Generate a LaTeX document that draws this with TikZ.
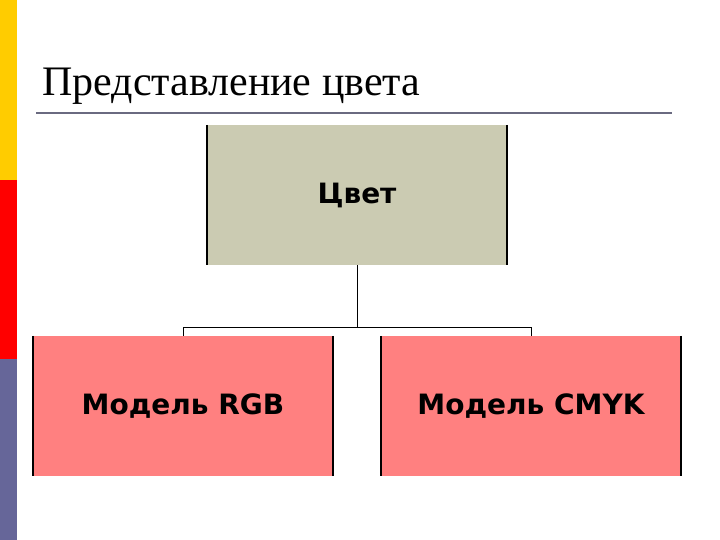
\documentclass[tikz,border=0pt]{standalone}
\usepackage{fontspec}
\setmainfont{Liberation Serif}
\newfontfamily\titrefont{Liberation Serif}
\newfontfamily\blocfont{DejaVu Sans}
\usetikzlibrary{positioning}
\definecolor{jaune}{HTML}{FFCC00}
\definecolor{rouge}{HTML}{FF0000}
\definecolor{mauve}{HTML}{666699}
\definecolor{trait}{HTML}{6A6A80}
\definecolor{beige}{HTML}{CBCBB2}
\definecolor{saumon}{HTML}{FF8080}
\tikzset{
  bloc/.style={rectangle, fill=beige, text=black, font=\blocfont\bfseries\fontsize{28}{32}\selectfont,
    minimum width=300pt, minimum height=140pt, inner sep=0pt, align=center},
  blocmodele/.style={bloc, fill=saumon},
  bord/.style={line width=2pt, color=black},
  lien/.style={line width=1pt, color=black}
}
\begin{document}
\begin{tikzpicture}[x=1pt, y=-1pt]
    \useasboundingbox (0,0) rectangle (720,540);
    \fill[white] (0,0) rectangle (720,540);

    % Bande de gauche
    \fill[jaune] (0,0) rectangle (17,180);
    \fill[rouge] (0,180) rectangle (17,359);
    \fill[mauve] (0,359) rectangle (17,540);

    % Titre
    \node[anchor=base west, inner sep=0pt, font=\titrefont\fontsize{42}{46}\selectfont] (titre) at (42,96) {Представление цвета};
    \coordinate (filg) at (36,113);
    \coordinate (fild) at (672,113);
    \draw[trait, line width=2pt] (filg) -- (fild);

    % Blocs
    \node[bloc] (cvet) at (357,195) {Цвет};
    \node[blocmodele] (rgb) at (183,406) {Модель RGB};
    \node[blocmodele] (cmyk) at (531,406) {Модель CMYK};

    \foreach \b in {cvet, rgb, cmyk} {
      \draw[bord] (\b.north west) -- (\b.south west);
      \draw[bord] (\b.north east) -- (\b.south east);
    }

    % Liaisons
    \coordinate (jonction) at (357,327);
    \draw[lien] (cvet.south) -- (jonction);
    \draw[lien] (jonction) -| (rgb.north);
    \draw[lien] (jonction) -| (cmyk.north);
\end{tikzpicture}
\end{document}
